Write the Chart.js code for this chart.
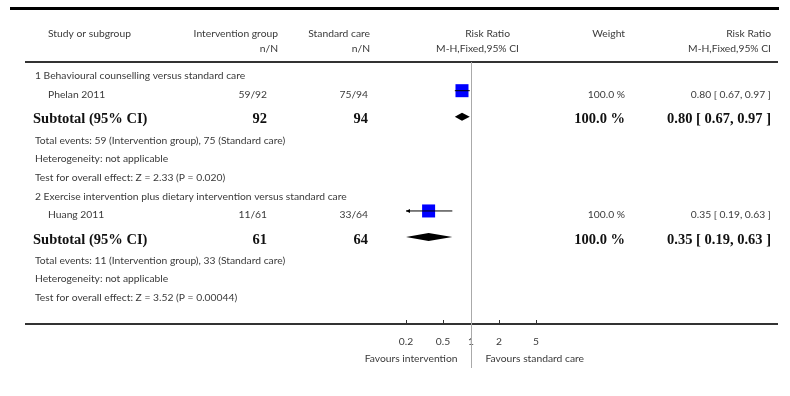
<!DOCTYPE html>
<html><head><meta charset="utf-8">
<script src="https://cdn.jsdelivr.net/npm/chart.js@4"></script>
<style>html,body{margin:0;padding:0;background:#fff}#wrap{width:790px;height:396px}</style>
</head><body><div id="wrap"><canvas id="c" width="790" height="396"></canvas></div>
<script>
// ---- data ----
const groupTitles = ['1 Behavioural counselling versus standard care', '2 Exercise intervention plus dietary intervention versus standard care'];
const studies = ['Phelan 2011', 'Huang 2011'];
const intEvents = [59, 11];
const intTotal = [92, 61];
const ctlEvents = [75, 33];
const ctlTotal = [94, 64];
const rr = [0.80, 0.35];
const rrLo = [0.67, 0.19];
const rrHi = [0.97, 0.63];
const weights = [100.0, 100.0];
const subRR = [0.80, 0.35];
const subLo = [0.67, 0.19];
const subHi = [0.97, 0.63];
const subWeight = [100.0, 100.0];
const zValues = ['2.33', '3.52'];
const pValues = ['0.020', '0.00044'];
const tickValues = [0.2, 0.5, 1, 2, 5];
const favourLabels = ['Favours intervention', 'Favours standard care'];

// ---- layout ----
const SANS = 'Lato';
const SERIF = '"Liberation Serif"';
const TXT = '#3a3a3a';
const ROWPX = 19;
const rows = [];
(function () {
  let y = 0.72;
  for (let g = 0; g < groupTitles.length; g++) {
    const r = { header: y };
    y += 0.97; r.study = y;
    y += 1.27; r.sub = y;
    y += 1.14; r.te = y;
    y += 0.95; r.het = y;
    y += 1.0; r.test = y;
    y += 1.0;
    rows.push(r);
  }
})();
const f2 = v => v.toFixed(2);
const ciText = (m, l, h) => f2(m) + ' [ ' + f2(l) + ', ' + f2(h) + ' ]';

const marksPlugin = {
  id: 'marks',
  afterDatasetsDraw(chart) {
    const ctx = chart.ctx, xs = chart.scales.x, ys = chart.scales.y;
    ctx.save();
    // diamonds
    ctx.fillStyle = '#000';
    for (let g = 0; g < subRR.length; g++) {
      const y = ys.getPixelForValue(rows[g].sub - 0.08);
      const lo = xs.getPixelForValue(Math.max(subLo[g], xs.min));
      const hi = xs.getPixelForValue(Math.min(subHi[g], xs.max));
      const m = xs.getPixelForValue(subRR[g]);
      ctx.beginPath();
      ctx.moveTo(lo, y); ctx.lineTo(m, y - 4); ctx.lineTo(hi, y); ctx.lineTo(m, y + 4); ctx.closePath();
      ctx.fill();
    }
    // arrows where CI leaves the axis range
    for (let i = 0; i < studies.length; i++) {
      const y = ys.getPixelForValue(rows[i].study - 0.18);
      if (rrLo[i] < xs.min) {
        const x = xs.getPixelForValue(xs.min);
        ctx.beginPath(); ctx.moveTo(x, y); ctx.lineTo(x + 4, y - 2); ctx.lineTo(x + 4, y + 2); ctx.closePath(); ctx.fill();
      }
      if (rrHi[i] > xs.max) {
        const x = xs.getPixelForValue(xs.max);
        ctx.beginPath(); ctx.moveTo(x, y); ctx.lineTo(x - 4, y - 2); ctx.lineTo(x - 4, y + 2); ctx.closePath(); ctx.fill();
      }
    }
    ctx.restore();
  },
  afterDraw(chart) {
    const ctx = chart.ctx, xs = chart.scales.x, ys = chart.scales.y, ca = chart.chartArea;
    ctx.save();
    // rules
    ctx.fillStyle = '#000';
    ctx.fillRect(10, 7, 769, 3);
    ctx.fillStyle = '#333';
    ctx.fillRect(25, ca.top - 1, 753, 2);
    ctx.fillRect(25, ca.bottom - 1, 753, 2);
    // tick marks
    ctx.strokeStyle = '#333'; ctx.lineWidth = 1;
    tickValues.forEach(v => {
      const x = Math.round(xs.getPixelForValue(v)) + 0.5;
      ctx.beginPath(); ctx.moveTo(x, ca.bottom - 4); ctx.lineTo(x, ca.bottom); ctx.stroke();
    });
    // reference line
    const x1 = Math.round(xs.getPixelForValue(1)) + 0.5;
    ctx.strokeStyle = '#aaa';
    ctx.beginPath(); ctx.moveTo(x1, ca.top); ctx.lineTo(x1, 368); ctx.stroke();

    const py = v => ys.getPixelForValue(v);
    const small = (t, x, y, align) => {
      ctx.font = '10.3px ' + SANS; ctx.fillStyle = TXT; ctx.textAlign = align || 'left';
      ctx.textBaseline = 'alphabetic'; ctx.fillText(t, x, y + 3.7);
    };
    const bold = (t, x, y, align) => {
      ctx.font = 'bold 14.5px ' + SERIF; ctx.fillStyle = '#111'; ctx.textAlign = align || 'left';
      ctx.textBaseline = 'alphabetic'; ctx.fillText(t, x, y + 5);
    };
    // header
    small('Study or subgroup', 48, 33);
    small('Intervention group', 278, 33, 'right');
    small('n/N', 278, 48, 'right');
    small('Standard care', 370, 33, 'right');
    small('n/N', 370, 48, 'right');
    small('Risk Ratio', 510, 33, 'right');
    small('M-H,Fixed,95% CI', 519, 48, 'right');
    small('Weight', 625, 33, 'right');
    small('Risk Ratio', 771, 33, 'right');
    small('M-H,Fixed,95% CI', 771, 48, 'right');
    // body
    for (let g = 0; g < groupTitles.length; g++) {
      const r = rows[g];
      small(groupTitles[g], 35, py(r.header));
      small(studies[g], 48, py(r.study));
      small(intEvents[g] + '/' + intTotal[g], 267, py(r.study), 'right');
      small(ctlEvents[g] + '/' + ctlTotal[g], 368, py(r.study), 'right');
      small(weights[g].toFixed(1) + ' %', 625, py(r.study), 'right');
      small(ciText(rr[g], rrLo[g], rrHi[g]), 771, py(r.study), 'right');
      bold('Subtotal (95% CI)', 33, py(r.sub));
      bold(String(intTotal[g]), 267, py(r.sub), 'right');
      bold(String(ctlTotal[g]), 368, py(r.sub), 'right');
      bold(subWeight[g].toFixed(1) + ' %', 625, py(r.sub), 'right');
      bold(ciText(subRR[g], subLo[g], subHi[g]), 771, py(r.sub), 'right');
      small('Total events: ' + intEvents[g] + ' (Intervention group), ' + ctlEvents[g] + ' (Standard care)', 35, py(r.te));
      small('Heterogeneity: not applicable', 35, py(r.het));
      small('Test for overall effect: Z = ' + zValues[g] + ' (P = ' + pValues[g] + ')', 35, py(r.test));
    }
    // favours labels
    small(favourLabels[0], x1 - 14, 358, 'right');
    small(favourLabels[1], x1 + 14, 358, 'left');
    ctx.restore();
  }
};

const squareData = studies.map((s, i) => ({ x: rr[i], y: rows[i].study - 0.18 }));
const ciSets = studies.map((s, i) => ({
  type: 'line',
  data: [{ x: rrLo[i], y: rows[i].study - 0.18 }, { x: rrHi[i], y: rows[i].study - 0.18 }],
  borderColor: '#000', borderWidth: 1, pointRadius: 0, showLine: true, order: 1
}));

new Chart(document.getElementById('c'), {
  type: 'scatter',
  data: {
    datasets: [{
      data: squareData, pointStyle: 'rect', pointRadius: 9.2, pointHoverRadius: 9.2,
      backgroundColor: '#0000ff', borderColor: '#0000ff', borderWidth: 0, order: 2
    }].concat(ciSets)
  },
  options: {
    responsive: false, animation: false, devicePixelRatio: 1,
    layout: { padding: { left: 406, right: 254, top: 62, bottom: 32 } },
    plugins: { legend: { display: false }, tooltip: { enabled: false } },
    scales: {
      x: {
        type: 'logarithmic', min: 0.2, max: 5, position: 'bottom',
        grid: { display: false, drawTicks: false }, border: { display: false },
        afterBuildTicks: s => { s.ticks = tickValues.map(v => ({ value: v })); },
        afterFit: s => { s.height = 40; },
        ticks: { autoSkip: false, maxRotation: 0, padding: 11, color: TXT, font: { family: SANS, size: 10.3 },
          callback: v => String(v) }
      },
      y: { type: 'linear', reverse: true, min: 0, max: 262 / ROWPX, display: false }
    }
  },
  plugins: [marksPlugin]
});
</script></body></html>
